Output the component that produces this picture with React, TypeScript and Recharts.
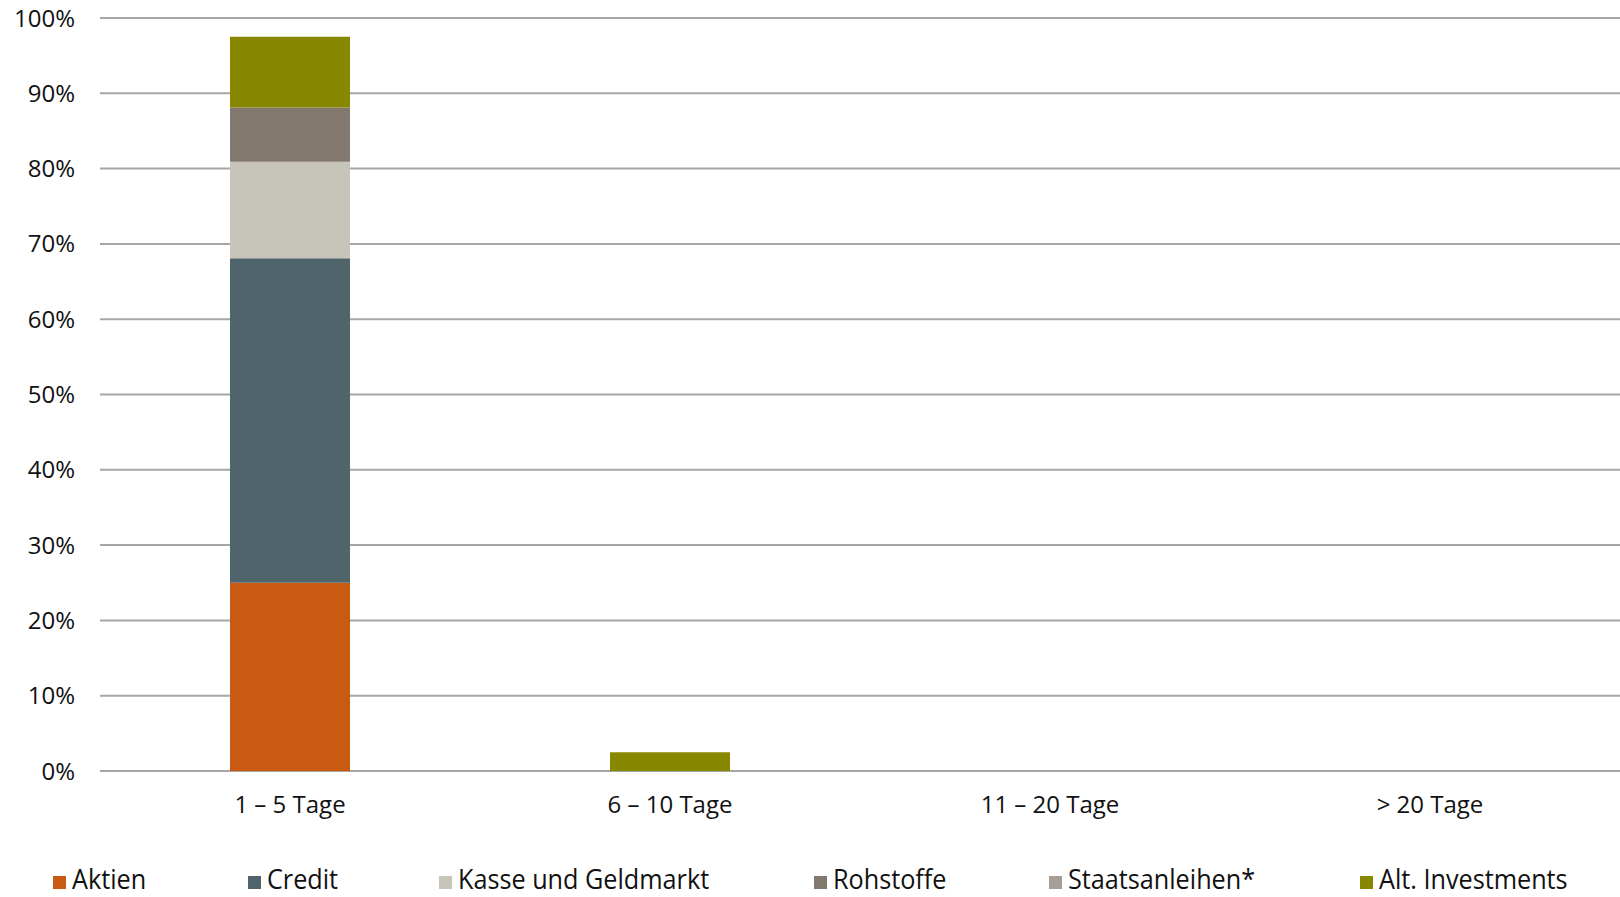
import React from "react";
import {
  BarChart,
  Bar,
  XAxis,
  YAxis,
  CartesianGrid,
  Legend,
} from "recharts";

// --- Data (values in %) ---
const categories = ["1 – 5 Tage", "6 – 10 Tage", "11 – 20 Tage", "> 20 Tage"];
const aktien = [25.0, 0, 0, 0];
const credit = [43.1, 0, 0, 0];
const kasse = [12.8, 0, 0, 0];
const rohstoffe = [7.2, 0, 0, 0];
const staatsanleihen = [0, 0, 0, 0];
const altInvestments = [9.4, 2.5, 0, 0];
const yTicks = [0, 10, 20, 30, 40, 50, 60, 70, 80, 90, 100];

const series = [
  { key: "aktien", name: "Aktien", values: aktien, color: "#C85A11" },
  { key: "credit", name: "Credit", values: credit, color: "#50646C" },
  { key: "kasse", name: "Kasse und Geldmarkt", values: kasse, color: "#C7C4B9" },
  { key: "rohstoffe", name: "Rohstoffe", values: rohstoffe, color: "#82786E" },
  { key: "staatsanleihen", name: "Staatsanleihen*", values: staatsanleihen, color: "#A89E98" },
  { key: "alt", name: "Alt. Investments", values: altInvestments, color: "#888800" },
];

const chartData = categories.map((cat, i) => {
  const row: Record<string, string | number> = { cat };
  series.forEach((s) => {
    row[s.key] = s.values[i];
  });
  return row;
});

// legend item widths so the spacing matches the original
const legendWidths = [195, 191, 375, 235, 311, 260];

const FONT = '"Open Sans", "Noto Sans", sans-serif';

const CustomLegend = () => (
  <div
    style={{
      display: "flex",
      paddingLeft: 53,
      paddingTop: 23,
      fontFamily: FONT,
      fontSize: 28,
      lineHeight: 1,
      color: "#111",
      whiteSpace: "nowrap",
    }}
  >
    {series.map((s, i) => (
      <div key={s.key} style={{ width: legendWidths[i], display: "flex", alignItems: "flex-end" }}>
        <span
          style={{
            display: "inline-block",
            width: 13,
            height: 13,
            background: s.color,
            marginRight: 6,
            marginBottom: 3,
            flexShrink: 0,
          }}
        />
        <span style={{ display: "inline-block", transform: "scaleX(0.9)", transformOrigin: "left" }}>
          {s.name}
        </span>
      </div>
    ))}
  </div>
);

export default function App() {
  return (
    <div
      style={{
        position: "absolute",
        left: 0,
        top: 0,
        width: 1620,
        height: 897,
        overflow: "hidden",
        background: "#fff",
      }}
    >
      <BarChart
        width={1620}
        height={897}
        data={chartData}
        margin={{ top: 18, right: 0, bottom: 0, left: 0 }}
        barSize={120}
      >
        <CartesianGrid horizontal vertical={false} stroke="#a6a6a6" strokeWidth={2} />
        <XAxis
          dataKey="cat"
          height={70}
          axisLine={false}
          tickLine={false}
          tickSize={0}
          tickMargin={25}
          tick={{ fill: "#111", fontSize: 24, fontFamily: FONT }}
          interval={0}
        />
        <YAxis
          width={100}
          domain={[0, 100]}
          ticks={yTicks}
          tickFormatter={(v) => `${v}%`}
          axisLine={false}
          tickLine={false}
          tickSize={0}
          tickMargin={25}
          tick={{ fill: "#111", fontSize: 24, fontFamily: FONT }}
          interval={0}
        />
        <Legend
          verticalAlign="bottom"
          height={56}
          content={<CustomLegend />}
          wrapperStyle={{ left: 0, width: 1620, height: 56, overflow: "hidden" }}
        />
        {series.map((s) => (
          <Bar
            key={s.key}
            dataKey={s.key}
            name={s.name}
            stackId="a"
            fill={s.color}
            isAnimationActive={false}
          />
        ))}
      </BarChart>
    </div>
  );
}
